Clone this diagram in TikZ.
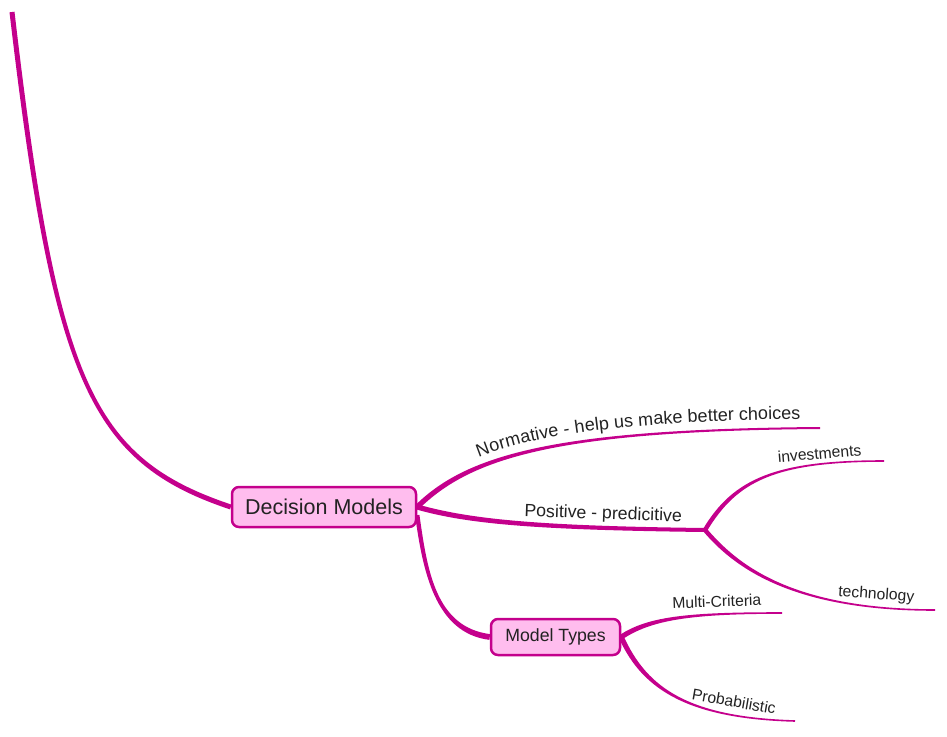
\documentclass[tikz,border=0pt]{standalone}
\usepackage{fontspec}
\setmainfont{Liberation Sans}
\usetikzlibrary{calc,decorations.text,backgrounds}
\definecolor{mag}{RGB}{196,0,140}
\definecolor{pinkfill}{RGB}{255,189,238}
\definecolor{txt}{RGB}{34,34,34}
% tapered branch: start, control 1, control 2, end, start half-width, end half-width
\newcommand\tbranch[6]{%
  \path ($(#1)!#5!90:(#2)$) coordinate (tpA)
        ($(#1)!#5!-90:(#2)$) coordinate (tpB)
        ($(#4)!#6!-90:(#3)$) coordinate (tpC)
        ($(#4)!#6!90:(#3)$) coordinate (tpD);
  \fill[mag] (tpA) .. controls ($(#2)+(tpA)-(#1)$) and ($(#3)+(tpC)-(#4)$) .. (tpC)
     -- (tpD) .. controls ($(#3)+(tpD)-(#4)$) and ($(#2)+(tpB)-(#1)$) .. (tpB) -- cycle;
}
\begin{document}
\begin{tikzpicture}[x=1pt,y=-1pt,
  box/.style={draw=mag, fill=pinkfill, line width=2.5pt, rounded corners=7pt, text=txt, inner sep=0pt},
  lab/.style={text=txt, inner sep=0pt, anchor=base, font=\fontsize{17.7}{20}\selectfont},
  slab/.style={lab, font=\fontsize{15.7}{18}\selectfont}]
\useasboundingbox (0,0) rectangle (947,736);
\node[box, minimum width=184pt, minimum height=40pt, font=\fontsize{21.5}{24}\selectfont] (dm) at (324,507) {Decision Models};
\node[box, minimum width=129pt, minimum height=36pt, font=\fontsize{17.7}{20}\selectfont] (mt) at (555.5,637) {Model Types};
\coordinate (top) at (12,12);
\coordinate (nend) at (820,428);
\coordinate (j) at (705,530);
\coordinate (iend) at (884,461);
\coordinate (tend) at (935,610);
\coordinate (mcend) at (782,613);
\coordinate (pend) at (795,721);
\begin{pgfonlayer}{background}
\tbranch{top}{55,380}{90,460}{dm.west}{2.5pt}{2.5pt}
\tbranch{dm.east}{470,455}{560,430}{nend}{2.6pt}{1pt}
\tbranch{dm.east}{470,522}{540,528}{j}{2.6pt}{2pt}
\tbranch{j}{735,480}{775,461}{iend}{2.2pt}{0.8pt}
\tbranch{j}{735,565}{790,610}{tend}{2.2pt}{0.8pt}
\tbranch{dm.-5}{425,570}{435,630}{mt.west}{2.2pt}{2.9pt}
\tbranch{mt.east}{650,618}{690,613}{mcend}{2.5pt}{0.8pt}
\tbranch{mt.east}{645,690}{690,718}{pend}{2.5pt}{0.8pt}
\end{pgfonlayer}
\path[decorate, decoration={text along path,
   text={|\fontsize{18}{20}\selectfont\color{txt}|Normative - help us make better choices},
   text align={left indent=77pt}, raise=9pt}]
   (dm.east) .. controls (470,455) and (560,430) .. (nend);
\node[lab, rotate=-2] (pl) at (603,519) {Positive - predicitive};
\node[slab, rotate=5] (il) at (820,459) {investments};
\node[slab, rotate=-4] (tl) at (876,599) {technology};
\node[slab, rotate=2] (ml) at (717,607) {Multi-Criteria};
\node[slab, rotate=-10] (prl) at (733,707) {Probabilistic};
\end{tikzpicture}
\end{document}
